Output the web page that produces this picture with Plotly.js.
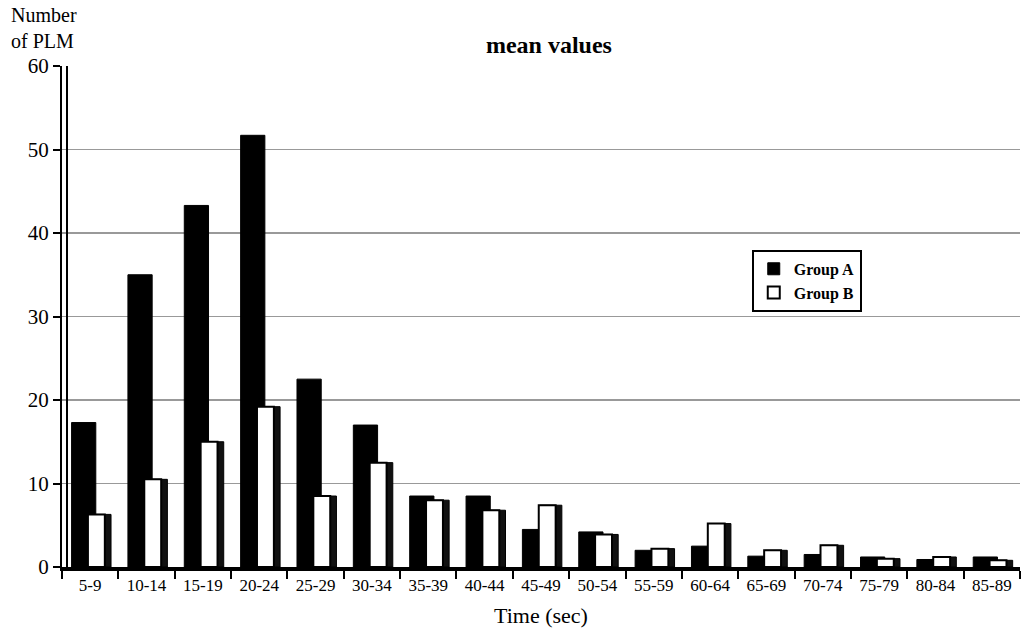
<!DOCTYPE html>
<html><head><meta charset="utf-8">
<script src="https://cdn.plot.ly/plotly-3.0.1.min.js"></script>
<style>body{margin:0;background:#fff}#c{width:1026px;height:632px}</style>
</head><body><div id="c"></div>
<script>
const categories = ["5-9","10-14","15-19","20-24","25-29","30-34","35-39","40-44","45-49","50-54","55-59","60-64","65-69","70-74","75-79","80-84","85-89"];
const groupA = [17.3, 35, 43.3, 51.7, 22.5, 17, 8.5, 8.5, 4.5, 4.2, 2, 2.5, 1.3, 1.5, 1.2, 0.9, 1.2];
const groupB = [6.3, 10.5, 15, 19.2, 8.5, 12.5, 8, 6.8, 7.4, 3.9, 2.2, 5.2, 2, 2.6, 1, 1.2, 0.8];
const yTicks = [0, 10, 20, 30, 40, 50, 60];
const yTitleLines = ["Number", "of PLM"];

const serif = "Liberation Serif, Times New Roman, serif";
const traces = [
  {type:'bar', name:'Group A', x:categories, y:groupA, offset:-0.33, width:0.43,
   marker:{color:'#000', line:{color:'#000', width:1}}, hoverinfo:'skip'},
  {type:'bar', name:'Group B shade', x:categories, y:groupB, offset:-0.02, width:0.39, showlegend:false,
   marker:{color:'#111', line:{color:'#000', width:1}}, hoverinfo:'skip'},
  {type:'bar', name:'Group B', x:categories, y:groupB, offset:-0.04, width:0.30,
   marker:{color:'#fff', line:{color:'#000', width:2}}, hoverinfo:'skip'}
];
const layout = {
  width:1026, height:632, barmode:'overlay', showlegend:true,
  paper_bgcolor:'#fff', plot_bgcolor:'#fff',
  margin:{l:62, r:6, t:66, b:65},
  font:{family:serif, color:'#000'},
  title:{text:'<b>mean values</b>', font:{family:serif, size:24, color:'#000'}, x:0.535, xanchor:'center', y:0.93, yanchor:'middle'},
  xaxis:{type:'category', tickson:'boundaries', ticks:'outside', ticklen:8, tickwidth:2, tickcolor:'#000',
    showline:true, linecolor:'#000', linewidth:4, showgrid:false, zeroline:false,
    tickfont:{family:serif, size:17, color:'#000'},
    title:{text:'Time (sec)', font:{family:serif, size:22, color:'#000'}, standoff:14},
    range:[-0.5, 16.5]},
  yaxis:{range:[0,60], tickvals:yTicks, ticks:'outside', ticklen:7, tickwidth:2, tickcolor:'#000',
    showline:true, linecolor:'#000', linewidth:2, showgrid:true, gridcolor:'#999', gridwidth:1.3,
    zeroline:false, tickfont:{family:serif, size:21, color:'#000'}},
  yaxis2:{overlaying:'y', anchor:'free', position:0.005, range:[0,60], showline:true, linecolor:'#000', linewidth:2,
    showticklabels:false, ticks:'', showgrid:false, zeroline:false},
  legend:{x:0.72, y:0.633, xanchor:'left', yanchor:'top', bordercolor:'#000', borderwidth:2, bgcolor:'#fff',
    font:{family:serif, size:16, color:'#000', weight:'bold'}, tracegroupgap:0, itemwidth:30},
  annotations:[
    {xref:'paper', yref:'paper', x:-52/958, y:(567-15)/501, xanchor:'left', yanchor:'middle', showarrow:false, borderpad:0,
     text:yTitleLines[0], font:{family:serif, size:20, color:'#000'}},
    {xref:'paper', yref:'paper', x:-52/958, y:(567-41)/501, xanchor:'left', yanchor:'middle', showarrow:false, borderpad:0,
     text:yTitleLines[1], font:{family:serif, size:20, color:'#000'}}
  ]
};
traces.push({type:'scatter', x:[categories[0]], y:[0], yaxis:'y2', mode:'markers', marker:{opacity:0}, showlegend:false, hoverinfo:'skip'});
Plotly.newPlot('c', traces, layout, {displayModeBar:false, staticPlot:true});
</script></body></html>
